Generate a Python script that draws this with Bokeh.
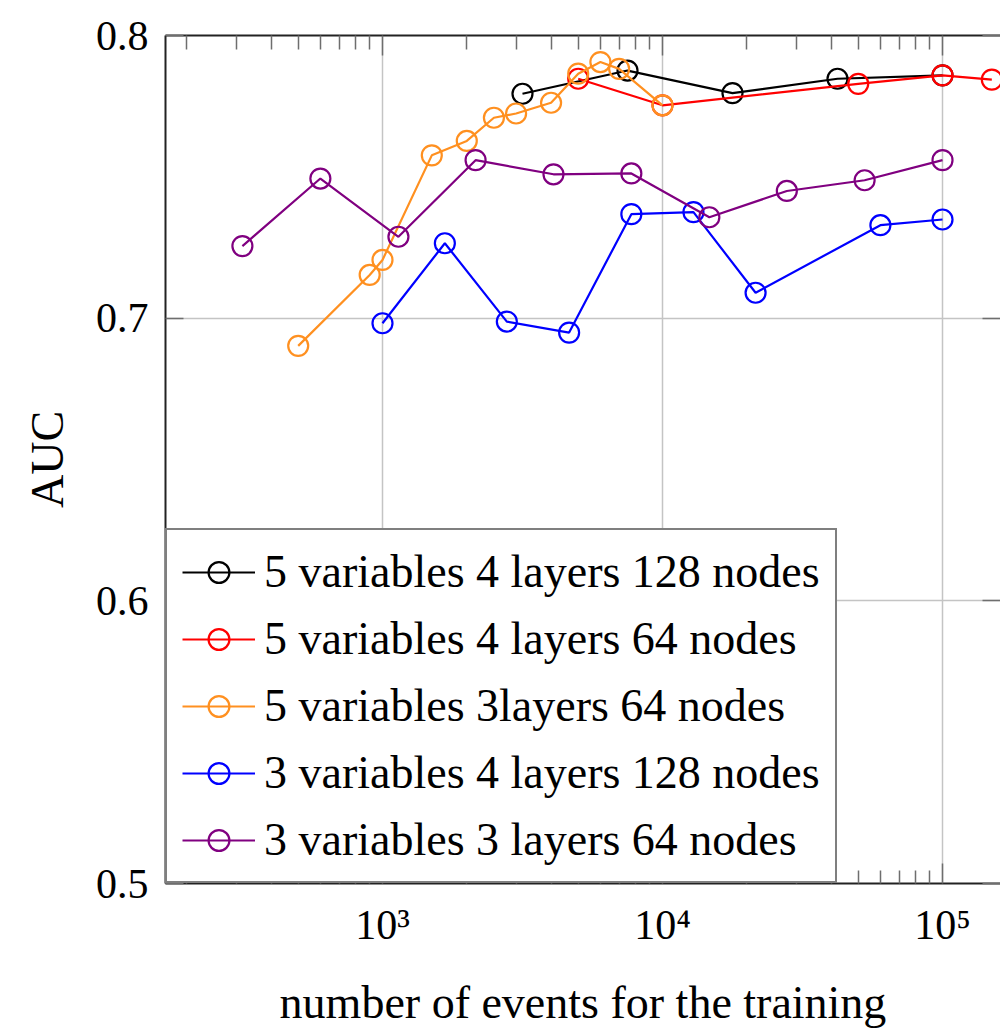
from bokeh.plotting import figure
from bokeh.models import Legend, LegendItem, LogAxis, LinearAxis, FixedTicker, Range1d
from bokeh.embed import file_html
from bokeh.resources import INLINE

# ---- data ----
series_names = [
    "5 variables 4 layers 128 nodes",
    "5 variables 4 layers 64 nodes",
    "5 variables 3layers 64 nodes",
    "3 variables 4 layers 128 nodes",
    "3 variables 3 layers 64 nodes",
]
black_x = [3162, 7500, 17780, 42170, 100000]
black_y = [0.7794, 0.7876, 0.7796, 0.7847, 0.7859]
red_x = [5000, 10000, 50000, 100000, 150000]
red_y = [0.7847, 0.7753, 0.7829, 0.7859, 0.7844]
orange_x = [500, 900, 1000, 1500, 2000, 2500, 3000, 4000, 5000, 6000, 7000, 10000]
orange_y = [0.6902, 0.7153, 0.7206, 0.7576, 0.7627, 0.7709, 0.7724, 0.7762, 0.7865, 0.7906, 0.7882, 0.7753]
blue_x = [1000, 1670, 2780, 4640, 7740, 12900, 21500, 60000, 100000]
blue_y = [0.6982, 0.7265, 0.6988, 0.6949, 0.7368, 0.7375, 0.7090, 0.7329, 0.7349]
purple_x = [316, 600, 1140, 2150, 4080, 7740, 14700, 27800, 52700, 100000]
purple_y = [0.7255, 0.7494, 0.7288, 0.7559, 0.7509, 0.7512, 0.7357, 0.7450, 0.7488, 0.7559]

x_major = [1e3, 1e4, 1e5]
x_labels = {1e3: "10³", 1e4: "10⁴", 1e5: "10⁵"}
y_major = [0.5, 0.6, 0.7, 0.8]

colors = ["#000000", "#ff0000", "#ff9020", "#0000ff", "#800080"]
xs = [black_x, red_x, orange_x, blue_x, purple_x]
ys = [black_y, red_y, orange_y, blue_y, purple_y]

FONT = "Liberation Serif"
TEXT = "#000000"
AXIS_COLOR = "#222222"
TICK_COLOR = "#6e6e6e"

p = figure(
    width=1000, height=1030,
    x_axis_type="log",
    x_range=Range1d(167.9, 161100), y_range=Range1d(0.5, 0.8),
    output_backend="svg", toolbar_location=None,
    min_border_left=165, min_border_right=0, min_border_top=35, min_border_bottom=145,
)
p.outline_line_color = None
p.background_fill_color = "white"
p.border_fill_color = "white"

minor = [m * 10 ** k for k in (2, 3, 4, 5) for m in range(2, 10)]
xticker = FixedTicker(ticks=x_major, minor_ticks=minor)
yticker = FixedTicker(ticks=y_major, minor_ticks=[])

# bottom axis
xa = p.xaxis[0]
xa.ticker = xticker
xa.major_label_overrides = x_labels
xa.axis_label = "number of events for the training"
xa.axis_label_text_font = FONT
xa.axis_label_text_font_size = "46px"
xa.axis_label_text_font_style = "normal"
xa.axis_label_text_color = TEXT
xa.axis_label_standoff = 26
xa.major_label_text_font = FONT
xa.major_label_text_font_size = "42px"
xa.major_label_text_color = TEXT
xa.major_label_standoff = 18
xa.axis_line_color = AXIS_COLOR
xa.axis_line_width = 2
xa.major_tick_in = 20
xa.major_tick_out = 0
xa.minor_tick_in = 13
xa.minor_tick_out = 0
xa.major_tick_line_color = TICK_COLOR
xa.minor_tick_line_color = TICK_COLOR
xa.major_tick_line_width = 1.5
xa.minor_tick_line_width = 1.5

# left axis
ya = p.yaxis[0]
ya.ticker = yticker
ya.axis_label = "AUC"
ya.axis_label_text_font = FONT
ya.axis_label_text_font_size = "46px"
ya.axis_label_text_font_style = "normal"
ya.axis_label_text_color = TEXT
ya.axis_label_standoff = 20
ya.major_label_text_font = FONT
ya.major_label_text_font_size = "42px"
ya.major_label_text_color = TEXT
ya.major_label_standoff = 17
ya.axis_line_color = AXIS_COLOR
ya.axis_line_width = 2
ya.major_tick_in = 18
ya.major_tick_out = 0
ya.minor_tick_in = 0
ya.minor_tick_out = 0
ya.major_tick_line_color = TICK_COLOR
ya.major_tick_line_width = 1.5

# top axis (ticks only)
top = LogAxis(ticker=xticker, major_label_overrides={v: "" for v in x_major},
              major_label_text_font_size="1px", major_label_standoff=0,
              major_tick_in=20, major_tick_out=0, minor_tick_in=14, minor_tick_out=0,
              axis_line_color=AXIS_COLOR, axis_line_width=2,
              major_tick_line_color=TICK_COLOR, minor_tick_line_color=TICK_COLOR,
              major_tick_line_width=1.5, minor_tick_line_width=1.5)
p.add_layout(top, "above")

# right axis (ticks only, border lies outside the cropped view)
right = LinearAxis(ticker=yticker, major_label_overrides={v: "" for v in y_major},
                   major_label_text_font_size="1px", major_label_standoff=0,
                   major_tick_in=18, major_tick_out=0, minor_tick_in=0, minor_tick_out=0,
                   axis_line_color=None, major_tick_line_color=TICK_COLOR,
                   major_tick_line_width=1.5)
p.add_layout(right, "right")

p.xgrid.ticker = xticker
p.ygrid.ticker = yticker
p.xgrid.grid_line_color = "#c4c4c4"
p.ygrid.grid_line_color = "#c4c4c4"
p.xgrid.grid_line_width = 1.5
p.ygrid.grid_line_width = 1.5

items = []
for name, c, x, y in zip(series_names, colors, xs, ys):
    lr = p.line(x, y, line_color=c, line_width=2.2)
    sr = p.scatter(x, y, marker="circle", size=20, fill_color=None, line_color=c, line_width=2.2)
    items.append(LegendItem(label=name, renderers=[lr, sr]))

legend = Legend(
    items=items, location="bottom_left", margin=0, padding=15, spacing=14,
    glyph_width=73, glyph_height=52, label_height=52, label_standoff=9,
    label_text_font=FONT, label_text_font_size="46px", label_text_color=TEXT,
    border_line_color="black", border_line_width=2,
    background_fill_color="white", background_fill_alpha=1.0,
)
p.add_layout(legend)

open("out.html", "w").write(file_html(p, INLINE))
